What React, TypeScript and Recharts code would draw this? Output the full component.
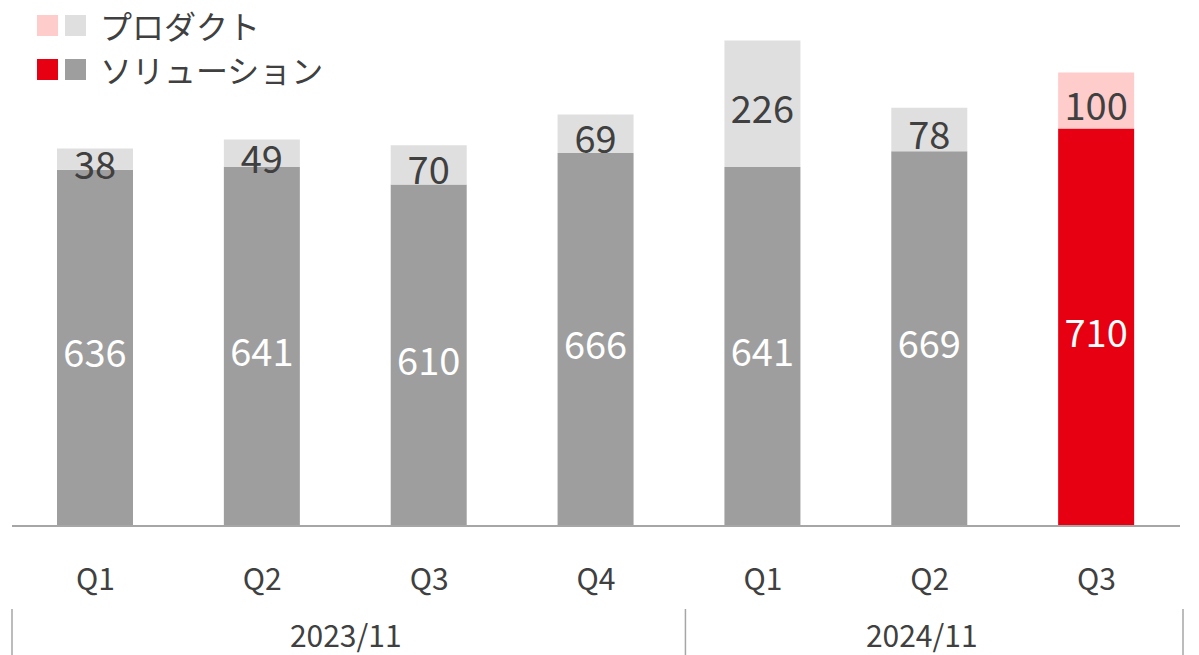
import React from "react";
import { BarChart, Bar, XAxis, YAxis, Cell, LabelList } from "recharts";

const quarters = ["Q1", "Q2", "Q3", "Q4", "Q1", "Q2", "Q3"];
const years = ["2023/11", "2023/11", "2023/11", "2023/11", "2024/11", "2024/11", "2024/11"];
const solutionValues = [636, 641, 610, 666, 641, 669, 710];
const productValues = [38, 49, 70, 69, 226, 78, 100];
const highlighted = [false, false, false, false, false, false, true];
const legendLabels = ["プロダクト", "ソリューション"];

const W = 1199;
const H = 655;
const ML = 12;
const MR = 19;
const MT = 22;
const AXIS_H = 129;
const BAND = (W - ML - MR) / quarters.length;

const FONT = '"Noto Sans CJK JP", "Noto Sans", sans-serif';
const TEXT = "#404040";
const C_PINK = "#FFCCCC";
const C_LIGHT = "#DFDFDF";
const C_GRAY = "#9E9E9E";
const C_RED = "#E60012";
const AXIS_C = "#A6A6A6";

const data = quarters.map((q, i) => ({
  key: `${years[i]}-${q}`,
  q,
  year: years[i],
  solution: solutionValues[i],
  product: productValues[i],
  hl: highlighted[i],
}));

const makeLabel = (fill: string) => (props: any) => {
  const { x, y, width, height, value } = props;
  return (
    <text
      x={Number(x) + Number(width) / 2}
      y={Number(y) + Number(height) / 2 + 3}
      textAnchor="middle"
      dominantBaseline="central"
      fill={fill}
      fontSize={38}
      fontFamily={FONT}
    >
      {value}
    </text>
  );
};

const Tick = (props: any) => {
  const { x, y, payload } = props;
  const i: number = payload.index;
  const row = data[i];
  const els: React.ReactNode[] = [];
  els.push(
    <text key="q" x={x} y={y + 51} textAnchor="middle" dominantBaseline="central" fill={TEXT} fontSize={30} fontFamily={FONT}>
      {row.q}
    </text>
  );
  const prev = data[i - 1];
  const next = data[i + 1];
  const isLast = !next || next.year !== row.year;
  if (!prev) {
    els.push(<line key="l0" x1={x - BAND / 2} x2={x - BAND / 2} y1={y + 83} y2={y + 129} stroke={AXIS_C} strokeWidth={1.5} />);
  }
  if (isLast) {
    const off = next ? 6 : 3;
    els.push(<line key="l1" x1={x + BAND / 2 + off} x2={x + BAND / 2 + off} y1={y + 83} y2={y + 129} stroke={AXIS_C} strokeWidth={1.5} />);
  }
  const groupIdx = data.map((d, k) => k).filter((k) => data[k].year === row.year);
  const mid = groupIdx[Math.floor((groupIdx.length - 1) / 2)];
  if (i === mid) {
    const cx = groupIdx.length % 2 === 0 ? x + BAND / 2 : x - 8;
    els.push(
      <text key="y" x={cx} y={y + 108} textAnchor="middle" dominantBaseline="central" fill={TEXT} fontSize={30} fontFamily={FONT}>
        {row.year}
      </text>
    );
  }
  return <g>{els}</g>;
};

const LegendBlock = () => {
  const rows = [
    { label: legendLabels[0], colors: [C_PINK, C_LIGHT] },
    { label: legendLabels[1], colors: [C_RED, C_GRAY] },
  ];
  return (
    <div style={{ position: "absolute", left: 0, top: 3, fontFamily: FONT }}>
      {rows.map((r, k) => (
        <div key={k} style={{ display: "flex", alignItems: "center", height: 44 }}>
          <span style={{ width: 21, height: 21, background: r.colors[0], marginLeft: 37, display: "inline-block" }} />
          <span style={{ width: 21, height: 21, background: r.colors[1], marginLeft: 7, display: "inline-block" }} />
          <span style={{ marginLeft: 14, fontSize: 32, color: TEXT, lineHeight: "44px", whiteSpace: "nowrap" }}>{r.label}</span>
        </div>
      ))}
    </div>
  );
};

export default function App() {
  return (
    <div style={{ position: "absolute", left: 0, top: 0, width: W, height: H, background: "#fff" }}>
      <BarChart width={W} height={H} data={data} margin={{ top: MT, right: MR, bottom: 0, left: ML }} barSize={76}>
        <XAxis
          dataKey="key"
          height={AXIS_H}
          tickLine={false}
          tickSize={0}
          tickMargin={0}
          axisLine={{ stroke: AXIS_C, strokeWidth: 2 }}
          tick={<Tick />}
          interval={0}
        />
        <YAxis hide domain={[0, 900]} />
        <Bar dataKey="solution" stackId="s" isAnimationActive={false}>
          {data.map((d, i) => (
            <Cell key={i} fill={d.hl ? C_RED : C_GRAY} />
          ))}
          <LabelList dataKey="solution" content={makeLabel("#FFFFFF")} />
        </Bar>
        <Bar dataKey="product" stackId="s" isAnimationActive={false}>
          {data.map((d, i) => (
            <Cell key={i} fill={d.hl ? C_PINK : C_LIGHT} />
          ))}
          <LabelList dataKey="product" content={makeLabel(TEXT)} />
        </Bar>
      </BarChart>
      <LegendBlock />
    </div>
  );
}
